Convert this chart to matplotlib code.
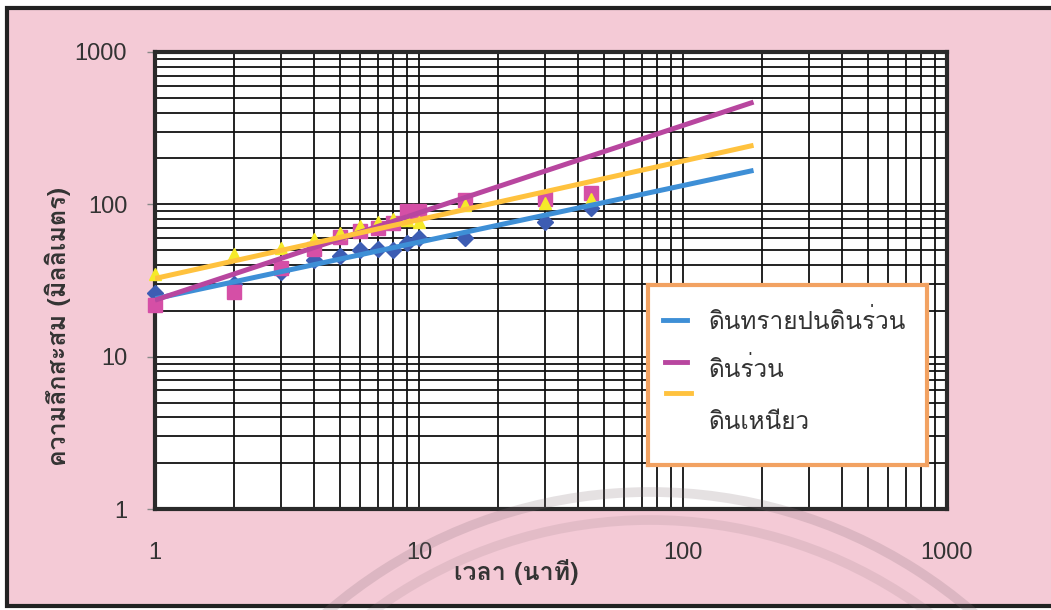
import numpy as np
import matplotlib
matplotlib.use("Agg")
import matplotlib.pyplot as plt
from matplotlib import font_manager
from matplotlib.patches import Rectangle, Arc
from fontTools.ttLib import TTFont

# find families that have Thai glyphs, prefer Loma
def thai_families():
    found = []
    for f in font_manager.fontManager.ttflist:
        try:
            cmap = TTFont(f.fname, fontNumber=0, lazy=True).getBestCmap()
        except Exception:
            continue
        if cmap and 0x0E14 in cmap and f.name not in found:
            found.append(f.name)
    return found

THAI = thai_families()
if 'Loma' in THAI:
    THAI = ['Loma'] + [t for t in THAI if t != 'Loma']
THAI_FAM = THAI[:1] + ['DejaVu Sans']

PINK_BG = "#F4CAD6"; BLUE = "#3E8FD6"; BLUE_M = "#3D5DB3"
MAG = "#B8469F"; MAG_M = "#D54FA6"; YEL = "#FFC23E"; YEL_M = "#F5EA2A"
ORANGE = "#F2A262"

# data
time_min = [1, 2, 3, 4, 5, 6, 7, 8, 9, 10, 15, 30, 45]
sandy_loam = [26, 30, 36, 43, 46, 50, 51, 50, 56, 60, 60, 76, 95]
loam = [22, 26.5, 38, 51, 61, 67, 70, 75, 90, 91, 106, 109, 118]
clay = [35, 47.5, 52, 59, 65, 72, 76, 80, 79, 77, 99, 102, 108]

# trend line end points (power fits, straight on log-log)
trend_x = [1, 185]
trend_sandy = [24, 167]
trend_loam = [23.5, 469]
trend_clay = [32.6, 244]

labels = ["ดินทรายปนดินร่วน", "ดินร่วน", "ดินเหนียว"]
xticks = [1, 10, 100, 1000]
yticks = [1, 10, 100, 1000]

W, H = 1051, 610
fig = plt.figure(figsize=(W / 100, H / 100), dpi=100)
fig.patch.set_facecolor('white')
fig.patches.append(Rectangle((7 / W, 4 / H), 1.2, (602 - 4) / H, transform=fig.transFigure,
                             facecolor=PINK_BG, edgecolor='#222222', lw=3, zorder=-2))

# faint seal watermark from the scan (display pixels, origin bottom-left)
for r, a in [(494, 0.20), (466, 0.14)]:
    fig.patches.append(Arc((650, H - 986), 2 * r, 2 * r, theta1=25, theta2=155,
                           transform=None, color='#7d6a72', lw=7, alpha=a, zorder=5))

ax = fig.add_axes([155 / W, 1 - 509 / H, (947 - 155) / W, (509 - 52) / H])
ax.set_facecolor('white')
ax.set_xscale('log'); ax.set_yscale('log')
ax.set_xlim(1, 1000); ax.set_ylim(1, 1000)

ax.grid(True, which='both', color='#111111', lw=1.3)
ax.set_axisbelow(True)
for s in ax.spines.values():
    s.set_color('#2a2a2a'); s.set_linewidth(3)

ax.plot(time_min, sandy_loam, 'D', color=BLUE_M, ms=8, zorder=3, clip_on=False)
ax.plot(time_min, loam, 's', color=MAG_M, ms=9.5, zorder=3, clip_on=False)
ax.plot(time_min, clay, '^', color=YEL_M, ms=9, zorder=3, clip_on=False)
ax.plot(trend_x, trend_sandy, color=BLUE, lw=3.6, zorder=4, solid_capstyle='butt')
ax.plot(trend_x, trend_loam, color=MAG, lw=3.6, zorder=4, solid_capstyle='butt')
ax.plot(trend_x, trend_clay, color=YEL, lw=3.6, zorder=4, solid_capstyle='butt')

ax.set_xticks(xticks); ax.set_xticklabels([str(t) for t in xticks])
ax.set_yticks(yticks); ax.set_yticklabels([str(t) for t in yticks])
ax.tick_params(axis='x', which='major', length=0, pad=24, labelsize=17, labelcolor='#333333')
ax.tick_params(axis='y', which='major', length=6, width=1, color='#888888', pad=14,
               labelsize=17, labelcolor='#333333')
ax.tick_params(which='minor', length=0)
for t in ax.get_xticklabels() + ax.get_yticklabels():
    t.set_fontfamily('Liberation Sans')

fig.text(58 / W, 1 - 326 / H, "ความลึกสะสม (มิลลิเมตร)", rotation=90, ha='center', va='center',
         fontsize=18, fontweight='bold', color='#333333', family=THAI_FAM)
fig.text(516 / W, 1 - 572 / H, "เวลา (นาที)", ha='center', va='center',
         fontsize=18, fontweight='bold', color='#333333', family=THAI_FAM)

# hand-made legend box as in the source chart
lax = fig.add_axes([648 / W, 1 - 465 / H, (927 - 648) / W, (465 - 285) / H])
lax.set_zorder(6)
lax.set_xlim(648, 927); lax.set_ylim(465, 285)
lax.set_xticks([]); lax.set_yticks([])
lax.set_facecolor('white')
for s in lax.spines.values():
    s.set_color(ORANGE); s.set_linewidth(3)
lax.plot([663, 687], [320, 320], color=BLUE, lw=3.5)
lax.plot([665, 687], [362, 362], color=MAG, lw=3.5)
lax.plot([666, 691], [393, 393], color=YEL, lw=3.5)
lax.text(708, 322, labels[0], va='center', fontsize=17.5, color='#333333', family=THAI_FAM)
lax.text(708, 370, labels[1], va='center', fontsize=17.5, color='#333333', family=THAI_FAM)
lax.text(708, 423, labels[2], va='center', fontsize=17.5, color='#333333', family=THAI_FAM)

fig.savefig("out.png", dpi=100, facecolor=fig.get_facecolor())
